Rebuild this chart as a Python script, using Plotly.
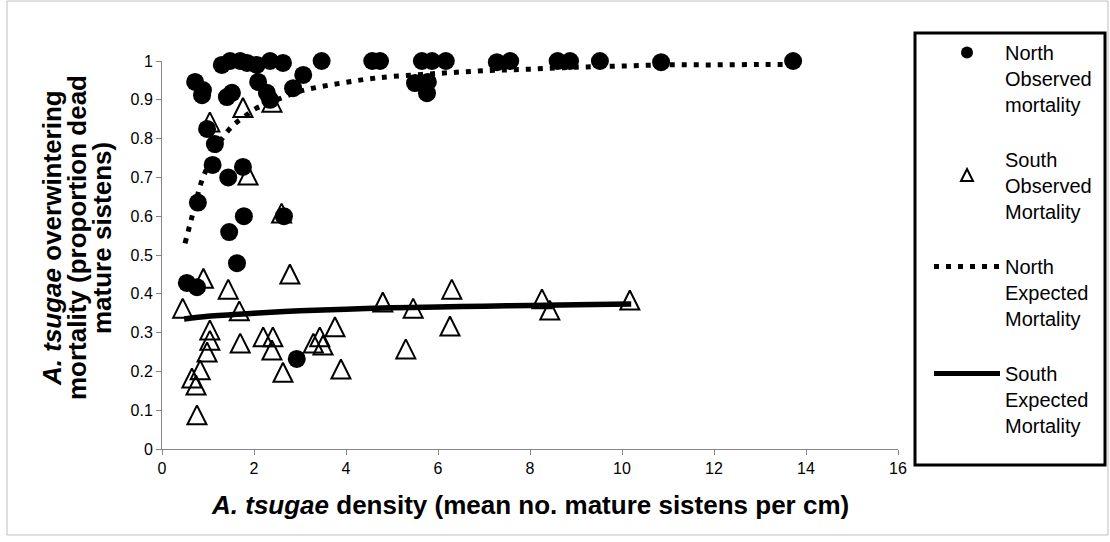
import plotly.graph_objects as go

# ---- data ----
north_obs_x = [0.54, 0.76, 0.72, 0.78, 0.89, 0.87, 0.98, 1.15, 1.10, 1.44, 1.76, 1.41, 1.52,
               1.30, 1.48, 1.70, 1.85, 2.06, 2.35, 2.63, 2.09, 2.28, 2.35, 2.85, 3.07, 3.47,
               4.57, 4.74, 5.65, 5.87, 6.17, 5.50, 5.78, 5.76, 7.28, 7.57, 8.60, 8.87, 9.52,
               10.85, 13.72, 1.78, 1.46, 2.65, 1.63, 2.93]
north_obs_y = [0.428, 0.417, 0.946, 0.635, 0.925, 0.912, 0.825, 0.786, 0.732, 0.700, 0.727, 0.907, 0.918,
               0.990, 1.000, 1.000, 0.995, 0.990, 1.000, 0.995, 0.946, 0.918, 0.900, 0.930, 0.964, 1.000,
               1.000, 1.000, 1.000, 1.000, 1.000, 0.943, 0.946, 0.917, 0.997, 1.000, 1.000, 1.000, 1.000,
               0.997, 1.000, 0.600, 0.559, 0.600, 0.479, 0.232]

south_obs_x = [2.60, 0.90, 1.44, 2.78, 0.45, 1.68, 3.76, 1.04, 1.04, 1.70, 2.20, 2.41, 2.39, 0.98,
               3.29, 3.50, 3.43, 2.63, 3.89, 0.83, 0.65, 0.74, 0.76, 1.04, 1.76, 2.39, 1.87,
               4.80, 5.46, 6.30, 6.26, 5.30, 8.26, 8.43, 10.17]
south_obs_y = [0.608, 0.440, 0.412, 0.451, 0.363, 0.356, 0.315, 0.307, 0.280, 0.273, 0.289, 0.289, 0.255, 0.250,
               0.273, 0.268, 0.289, 0.198, 0.206, 0.204, 0.183, 0.165, 0.088, 0.843, 0.880, 0.894, 0.706,
               0.379, 0.363, 0.412, 0.317, 0.258, 0.387, 0.358, 0.384]

north_exp_x = [0.5, 0.6, 0.7, 0.85, 1.0, 1.2, 1.4, 1.6, 1.8, 2.0, 2.5, 3.0, 3.5, 4.0, 4.5,
               5, 6, 7, 8, 9, 10, 11, 12, 13, 13.8]
north_exp_y = [0.530, 0.575, 0.620, 0.686, 0.730, 0.780, 0.815, 0.840, 0.857, 0.875, 0.900, 0.922,
               0.935, 0.945, 0.954, 0.960, 0.968, 0.975, 0.979, 0.984, 0.987, 0.990, 0.990, 0.991, 0.991]

south_exp_x = [0.48, 1.0, 1.5, 2.0, 3.0, 4.0, 5.0, 6.0, 7.0, 8.0, 9.0, 10.2]
south_exp_y = [0.335, 0.342, 0.346, 0.350, 0.356, 0.360, 0.364, 0.366, 0.368, 0.370, 0.372, 0.374]

x_ticks = [0, 2, 4, 6, 8, 10, 12, 14, 16]
y_ticks = [0, 0.1, 0.2, 0.3, 0.4, 0.5, 0.6, 0.7, 0.8, 0.9, 1]

x_title = "<b><i>A. tsugae</i> density (mean no. mature sistens per cm)</b>"
y_title_lines = ["<b><i>A. tsugae</i> overwintering</b>",
                 "<b>mortality (proportion dead</b>",
                 "<b>mature sistens)</b>"]

FONT = "Liberation Sans, Arial, sans-serif"
GRAY = "#868686"

fig = go.Figure()

fig.add_trace(go.Scatter(
    x=south_obs_x, y=south_obs_y, mode="markers",
    name="South<br>Observed<br>Mortality", legendgroup="b", legendrank=2,
    marker=dict(symbol="arrow-down-open", angle=180, standoff=9.5, size=19,
                color="black", line=dict(width=2, color="black")),
    cliponaxis=False,
))
fig.add_trace(go.Scatter(
    x=north_obs_x, y=north_obs_y, mode="markers",
    name="North<br>Observed<br>mortality", legendgroup="a", legendrank=1,
    marker=dict(symbol="circle", size=18, color="black", line=dict(width=0)),
    cliponaxis=False,
))
fig.add_trace(go.Scatter(
    x=north_exp_x, y=north_exp_y, mode="lines", line_shape="spline",
    name="North<br>Expected<br>Mortality", legendgroup="c", legendrank=3,
    line=dict(color="black", width=5, dash="5px,7px"),
    cliponaxis=False,
))
fig.add_trace(go.Scatter(
    x=south_exp_x, y=south_exp_y, mode="lines", line_shape="spline",
    name="South<br>Expected<br>Mortality", legendgroup="d", legendrank=4,
    line=dict(color="black", width=5.5),
    cliponaxis=False,
))

axis_common = dict(
    showgrid=False, zeroline=False, showline=True, linecolor=GRAY, linewidth=1,
    ticks="outside", ticklen=5, tickcolor=GRAY, tickwidth=1,
    tickfont=dict(family=FONT, size=16, color="black"),
)

annotations = [
    dict(text=x_title, xref="paper", yref="paper", x=0.5, y=(449 - 505) / 388,
         xanchor="center", yanchor="middle", showarrow=False,
         font=dict(family=FONT, size=26, color="black")),
]
y_title_x_px = [52, 77, 102]
for txt, xp in zip(y_title_lines, y_title_x_px):
    annotations.append(dict(
        text=txt, xref="paper", yref="paper", x=(xp - 162) / 736, y=(449 - 238) / 388,
        xanchor="center", yanchor="middle", showarrow=False, textangle=-90,
        font=dict(family=FONT, size=26, color="black")))

fig.update_layout(
    width=1110, height=542, autosize=False,
    margin=dict(l=162, r=212, t=61, b=93, pad=0),
    paper_bgcolor="white", plot_bgcolor="white",
    font=dict(family=FONT, color="black"),
    xaxis=dict(range=[0, 16], tickvals=x_ticks, **axis_common),
    yaxis=dict(range=[0, 1], tickvals=y_ticks, **axis_common),
    showlegend=True,
    legend=dict(
        x=(929 - 162) / 736, y=(449 - 33) / 388, xanchor="left", yanchor="top",
        bgcolor="rgba(0,0,0,0)", borderwidth=0,
        font=dict(family=FONT, size=20, color="black"),
        valign="top", tracegroupgap=26, itemsizing="constant", itemwidth=66,
        traceorder="grouped", maxheight=600,
    ),
    annotations=annotations,
    shapes=[
        dict(type="rect", xref="paper", yref="paper",
             x0=(7 - 162) / 736, x1=(1108 - 162) / 736,
             y0=(449 - 535) / 388, y1=(449 - 1) / 388,
             line=dict(color="#bfbfbf", width=1), fillcolor="rgba(0,0,0,0)"),
        dict(type="rect", xref="paper", yref="paper",
             x0=(915 - 162) / 736, x1=(1105 - 162) / 736,
             y0=(449 - 465) / 388, y1=(449 - 33) / 388,
             line=dict(color="black", width=3), fillcolor="rgba(0,0,0,0)"),
    ],
)

fig.write_html("out.html")
